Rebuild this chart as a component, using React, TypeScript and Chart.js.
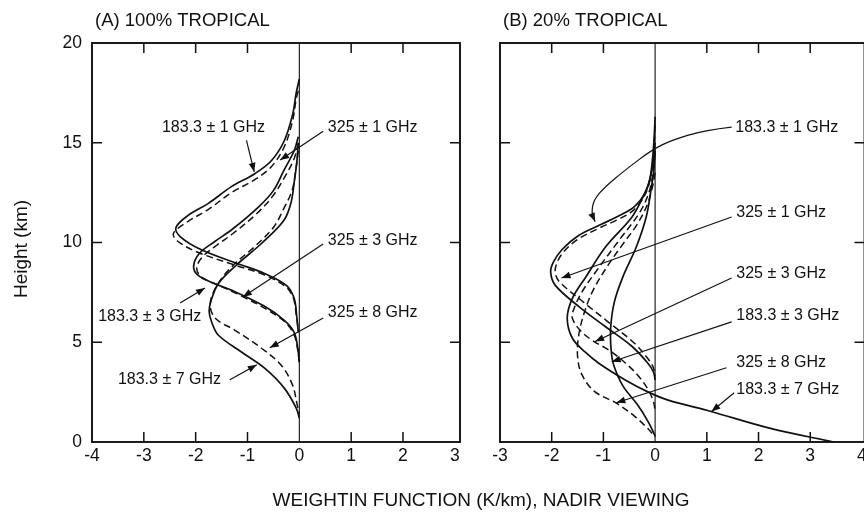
import React, { useEffect, useRef } from 'react';
import { Chart, registerables } from 'chart.js';

Chart.register(...registerables);

type P = [number, number];

// ---------- axes ----------
const X_TICKS_A = [-4, -3, -2, -1, 0, 1, 2, 3];
const X_TICKS_B = [-3, -2, -1, 0, 1, 2, 3, 4];
const Y_TICKS = [0, 5, 10, 15, 20];

// ---------- (A) 100% TROPICAL : [weighting (K/km), height (km)] ----------
const A_183_1: P[] = [[0, 18.2], [-0.06, 17.5], [-0.13, 16.4], [-0.29, 15.1], [-0.54, 14.1], [-0.86, 13.45], [-1.31, 12.8], [-1.76, 11.95], [-2.15, 11.35], [-2.38, 10.75], [-2.3, 10.3], [-1.9, 9.65], [-1.2, 8.95], [-0.67, 8.45], [-0.25, 7.85], [-0.1, 7.2], [-0.05, 6.3], [-0.02, 5.5]];
const A_325_1: P[] = [[-0.02, 17.6], [-0.06, 17.2], [-0.13, 16.1], [-0.29, 14.8], [-0.54, 13.8], [-0.86, 13.15], [-1.31, 12.5], [-1.76, 11.65], [-2.15, 11.05], [-2.43, 10.45], [-2.34, 10.05], [-1.95, 9.5], [-1.22, 8.85], [-0.68, 8.38], [-0.27, 7.8], [-0.12, 7.25], [-0.06, 6.4], [-0.02, 5.6]];
const A_183_3: P[] = [[-0.02, 15.3], [-0.1, 14.6], [-0.3, 13.6], [-0.5, 12.6], [-0.8, 11.75], [-1.3, 10.65], [-1.63, 10.05], [-1.93, 9.45], [-2.04, 8.8], [-1.95, 8.35], [-1.65, 7.95], [-1.3, 7.6], [-0.67, 6.8], [-0.29, 6.1], [-0.1, 5.5], [-0.03, 4.7], [0, 4.0]];
const A_325_3: P[] = [[-0.02, 15.0], [-0.1, 14.2], [-0.3, 13.2], [-0.52, 12.3], [-0.82, 11.45], [-1.28, 10.45], [-1.6, 9.85], [-1.88, 9.25], [-1.98, 8.7], [-1.88, 8.25], [-1.55, 7.85], [-1.1, 7.3], [-0.6, 6.6], [-0.25, 5.95], [-0.09, 5.3], [-0.03, 4.6], [0, 4.0]];
const A_183_7: P[] = [[-0.02, 15.0], [-0.05, 14.0], [-0.1, 13.0], [-0.16, 12.0], [-0.3, 11.1], [-0.73, 9.95], [-1.18, 8.95], [-1.56, 7.95], [-1.7, 7.1], [-1.74, 6.55], [-1.69, 6.0], [-1.56, 5.35], [-1.11, 4.5], [-0.67, 3.7], [-0.29, 2.7], [-0.06, 1.7], [0, 1.2]];
const A_325_8: P[] = [[-0.02, 14.6], [-0.07, 13.6], [-0.14, 12.6], [-0.3, 11.7], [-0.5, 10.75], [-0.86, 9.8], [-1.3, 8.8], [-1.6, 7.8], [-1.72, 6.9], [-1.62, 6.2], [-1.24, 5.6], [-0.73, 4.7], [-0.35, 3.85], [-0.13, 2.85], [-0.04, 1.85], [0, 1.4]];

// ---------- (B) 20% TROPICAL ----------
const B_183_1: P[] = [[0, 16.3], [-0.02, 15.2], [-0.05, 14.2], [-0.1, 13.2], [-0.2, 12.45], [-0.4, 11.8], [-0.65, 11.4], [-1.05, 10.9], [-1.48, 10.35], [-1.8, 9.65], [-1.97, 9.0], [-2.02, 8.5], [-1.93, 7.85], [-1.48, 6.8], [-0.97, 5.8], [-0.45, 4.8], [-0.14, 3.95], [-0.03, 3.5], [0, 3.1]];
const B_325_1: P[] = [[0, 15.9], [-0.02, 14.9], [-0.05, 13.9], [-0.12, 12.9], [-0.25, 12.15], [-0.45, 11.55], [-0.72, 11.15], [-1.1, 10.7], [-1.5, 10.15], [-1.78, 9.5], [-1.91, 8.9], [-1.93, 8.45], [-1.84, 8.0], [-1.38, 7.0], [-0.9, 6.0], [-0.42, 5.0], [-0.13, 4.15], [-0.03, 3.7], [0, 3.3]];
const B_183_3: P[] = [[0, 14.6], [-0.03, 13.5], [-0.07, 12.8], [-0.17, 11.3], [-0.36, 9.8], [-0.62, 8.3], [-0.79, 7.0], [-0.86, 5.7], [-0.85, 4.6], [-0.8, 3.85], [-0.62, 2.8], [-0.35, 1.9], [-0.13, 1.0], [0, 0.3]];
const B_183_7: P[] = [[0, 15.0], [-0.04, 14.0], [-0.12, 13.0], [-0.25, 12.2], [-0.45, 11.27], [-0.96, 9.77], [-1.34, 8.27], [-1.6, 7.2], [-1.7, 6.2], [-1.6, 5.2], [-1.35, 4.5], [-1.09, 3.95], [-0.57, 3.1], [-0.13, 2.5], [0.25, 2.1], [1.08, 1.53], [2.23, 0.68], [3.45, 0]];
const B_325_3: P[] = [[0, 14.5], [-0.04, 13.5], [-0.12, 12.5], [-0.3, 11.5], [-0.7, 10.1], [-1.1, 8.7], [-1.42, 7.5], [-1.58, 6.6], [-1.6, 6.2], [-1.45, 5.6], [-1.22, 5.1], [-0.89, 4.6], [-0.57, 3.95], [-0.32, 3.3], [-0.13, 2.6], [-0.03, 2.0], [0, 1.6]];
const B_325_8: P[] = [[0, 13.5], [-0.05, 12.8], [-0.15, 11.9], [-0.35, 10.9], [-0.6, 10.0], [-0.9, 8.9], [-1.2, 7.6], [-1.38, 6.4], [-1.48, 5.3], [-1.5, 4.3], [-1.42, 3.4], [-1.18, 2.55], [-0.75, 1.95], [-0.4, 1.3], [-0.15, 0.7], [-0.03, 0.35], [0, 0.25]];

// ---------- annotations (data coordinates) ----------
interface Label { text: string; at: P; path: P[] }
const LABELS_A: Label[] = [
  { text: '183.3 ± 1 GHz', at: [-2.65, 15.78], path: [[-1.02, 15.12], [-0.87, 13.54]] },
  { text: '325 ± 1 GHz', at: [0.55, 15.78], path: [[0.46, 15.58], [-0.37, 14.13]] },
  { text: '325 ± 3 GHz', at: [0.55, 10.12], path: [[0.46, 9.92], [-1.09, 7.27]] },
  { text: '183.3 ± 3 GHz', at: [-3.88, 6.3], path: [[-2.3, 6.97], [-1.82, 7.72]] },
  { text: '325 ± 8 GHz', at: [0.55, 6.47], path: [[0.46, 6.22], [-0.57, 4.72]] },
  { text: '183.3 ± 7 GHz', at: [-3.5, 3.12], path: [[-1.34, 3.12], [-0.82, 3.87]] },
];
const LABELS_B: Label[] = [
  { text: '183.3 ± 1 GHz', at: [1.55, 15.78], path: [[1.48, 15.78], [0.97, 15.63], [0.32, 15.13], [-0.07, 14.63], [-0.58, 13.63], [-0.97, 12.79], [-1.19, 12.13], [-1.23, 11.46], [-1.16, 11.04]] },
  { text: '325 ± 1 GHz', at: [1.57, 11.48], path: [[1.48, 11.28], [-1.81, 8.22]] },
  { text: '325 ± 3 GHz', at: [1.57, 8.42], path: [[1.48, 8.22], [-1.16, 5.04]] },
  { text: '183.3 ± 3 GHz', at: [1.57, 6.32], path: [[1.48, 6.02], [-0.84, 4.02]] },
  { text: '325 ± 8 GHz', at: [1.57, 3.97], path: [[1.38, 3.72], [-0.75, 1.97]] },
  { text: '183.3 ± 7 GHz', at: [1.57, 2.62], path: [[1.53, 2.47], [1.09, 1.53]] },
];

const FONT = '"Liberation Sans", Arial, Helvetica, sans-serif';
const INK = '#111111';

const series = (pts: P[], dashed: boolean) => ({
  data: pts.map(([x, y]) => ({ x, y })),
  showLine: true,
  borderColor: INK,
  borderWidth: dashed ? 1.5 : 1.7,
  borderDash: dashed ? [7, 4] : [],
  pointRadius: 0,
  pointHoverRadius: 0,
  tension: 0.35,
  fill: false,
});

function arrowHead(ctx: CanvasRenderingContext2D, fx: number, fy: number, tx: number, ty: number) {
  const ang = Math.atan2(ty - fy, tx - fx);
  const L = 9, W = 3.4;
  ctx.beginPath();
  ctx.moveTo(tx, ty);
  ctx.lineTo(tx - L * Math.cos(ang) + W * Math.sin(ang), ty - L * Math.sin(ang) - W * Math.cos(ang));
  ctx.lineTo(tx - L * Math.cos(ang) - W * Math.sin(ang), ty - L * Math.sin(ang) + W * Math.cos(ang));
  ctx.closePath();
  ctx.fill();
}

function makePlugin(labels: Label[], title: string, titleX: number, withAxisTitles: boolean) {
  return {
    id: 'frameAndNotes',
    afterDatasetsDraw(chart: any) {
      const { ctx, chartArea: a, scales } = chart;
      const x = scales.x, y = scales.y;
      const px = (v: number) => x.getPixelForValue(v);
      const py = (v: number) => y.getPixelForValue(v);
      ctx.save();
      ctx.strokeStyle = INK;
      ctx.fillStyle = INK;
      ctx.setLineDash([]);
      // frame
      ctx.lineWidth = 1.9;
      ctx.strokeRect(a.left, a.top, a.right - a.left, a.bottom - a.top);
      // zero line
      ctx.lineWidth = 1.1;
      ctx.beginPath();
      ctx.moveTo(px(0), a.top);
      ctx.lineTo(px(0), a.bottom);
      ctx.stroke();
      // inward ticks
      const T = 10;
      ctx.lineWidth = 1.5;
      ctx.beginPath();
      x.ticks.forEach((t: any) => {
        const p = px(t.value);
        if (t.value === 0 || p - a.left < 8 || a.right - p < 8) return;
        ctx.moveTo(p, a.top); ctx.lineTo(p, a.top + T);
        ctx.moveTo(p, a.bottom); ctx.lineTo(p, a.bottom - T);
      });
      y.ticks.forEach((t: any) => {
        const p = py(t.value);
        if (p - a.top < 8 || a.bottom - p < 8) return;
        ctx.moveTo(a.left, p); ctx.lineTo(a.left + T, p);
        ctx.moveTo(a.right, p); ctx.lineTo(a.right - T, p);
      });
      ctx.stroke();
      // labels and arrows
      ctx.font = `16px ${FONT}`;
      ctx.textAlign = 'left';
      ctx.textBaseline = 'middle';
      ctx.lineWidth = 1.2;
      labels.forEach((lb) => {
        ctx.fillText(lb.text, px(lb.at[0]), py(lb.at[1]));
        const pts = lb.path.map(([u, v]) => [px(u), py(v)]);
        ctx.beginPath();
        ctx.moveTo(pts[0][0], pts[0][1]);
        if (pts.length === 2) {
          ctx.lineTo(pts[1][0], pts[1][1]);
        } else {
          for (let i = 1; i < pts.length - 1; i++) {
            const mx = (pts[i][0] + pts[i + 1][0]) / 2;
            const my = (pts[i][1] + pts[i + 1][1]) / 2;
            ctx.quadraticCurveTo(pts[i][0], pts[i][1], mx, my);
          }
          ctx.lineTo(pts[pts.length - 1][0], pts[pts.length - 1][1]);
        }
        ctx.stroke();
        const n = pts.length;
        arrowHead(ctx, pts[n - 2][0], pts[n - 2][1], pts[n - 1][0], pts[n - 1][1]);
      });
      // titles
      ctx.font = `18.5px ${FONT}`;
      ctx.fillText(title, titleX, 21);
      if (withAxisTitles) {
        ctx.font = `19px ${FONT}`;
        ctx.textAlign = 'center';
        ctx.fillText('WEIGHTIN FUNCTION (K/km), NADIR VIEWING', 481, 501);
        ctx.save();
        ctx.translate(22, 249);
        ctx.rotate(-Math.PI / 2);
        ctx.fillText('Height (km)', 0, 0);
        ctx.restore();
      }
      ctx.restore();
    },
  };
}

function buildConfig(opts: {
  datasets: any[]; xMin: number; xMax: number; xTicks: number[]; showY: boolean;
  yWidth: number; padRight: number; labels: Label[]; title: string; titleX: number; axisTitles: boolean;
}): any {
  const tickFont = { family: FONT, size: 17.5 };
  return {
    type: 'scatter',
    data: { datasets: opts.datasets },
    options: {
      animation: false,
      responsive: false,
      maintainAspectRatio: false,
      events: [],
      layout: { padding: { top: 43, left: 0, right: opts.padRight, bottom: 0 } },
      plugins: { legend: { display: false }, tooltip: { enabled: false }, title: { display: false } },
      scales: {
        x: {
          type: 'linear',
          min: opts.xMin,
          max: opts.xMax,
          afterBuildTicks: (s: any) => { s.ticks = opts.xTicks.map((v) => ({ value: v })); },
          afterFit: (s: any) => { s.height = 72; },
          grid: { display: false, drawTicks: false },
          border: { display: false },
          ticks: { font: tickFont, color: INK, padding: 4, maxRotation: 0, autoSkip: false },
        },
        y: {
          type: 'linear',
          min: 0,
          max: 20,
          afterBuildTicks: (s: any) => { s.ticks = Y_TICKS.map((v) => ({ value: v })); },
          afterFit: (s: any) => { s.width = opts.yWidth; },
          grid: { display: false, drawTicks: false },
          border: { display: false },
          ticks: { display: opts.showY, font: tickFont, color: INK, padding: 10, autoSkip: false },
        },
      },
    },
    plugins: [makePlugin(opts.labels, opts.title, opts.titleX, opts.axisTitles)],
  };
}

export default function App() {
  const refA = useRef<HTMLCanvasElement>(null);
  const refB = useRef<HTMLCanvasElement>(null);

  useEffect(() => {
    const ca = new Chart(refA.current as HTMLCanvasElement, buildConfig({
      datasets: [
        series(A_183_1, false), series(A_325_1, true),
        series(A_183_3, false), series(A_325_3, true),
        series(A_183_7, false), series(A_325_8, true),
      ],
      xMin: -4, xMax: 3.1, xTicks: X_TICKS_A, showY: true, yWidth: 92, padRight: 864 - 460,
      labels: LABELS_A, title: '(A) 100% TROPICAL', titleX: 95, axisTitles: true,
    }));
    const cb = new Chart(refB.current as HTMLCanvasElement, buildConfig({
      datasets: [
        series(B_183_1, false), series(B_325_1, true),
        series(B_183_3, false), series(B_325_3, true),
        series(B_183_7, false), series(B_325_8, true),
      ],
      xMin: -3, xMax: 4.05, xTicks: X_TICKS_B, showY: false, yWidth: 30, padRight: 430 - 394.5,
      labels: LABELS_B, title: '(B) 20% TROPICAL', titleX: 33, axisTitles: false,
    }));
    return () => { ca.destroy(); cb.destroy(); };
  }, []);

  return (
    <div style={{ position: 'fixed', left: 0, top: 0, width: 864, height: 514, overflow: 'hidden', background: '#ffffff' }}>
      <canvas ref={refA} width={864} height={514} style={{ position: 'absolute', left: 0, top: 0, width: 864, height: 514 }} />
      <canvas ref={refB} width={430} height={514} style={{ position: 'absolute', left: 470, top: 0, width: 430, height: 514 }} />
    </div>
  );
}
